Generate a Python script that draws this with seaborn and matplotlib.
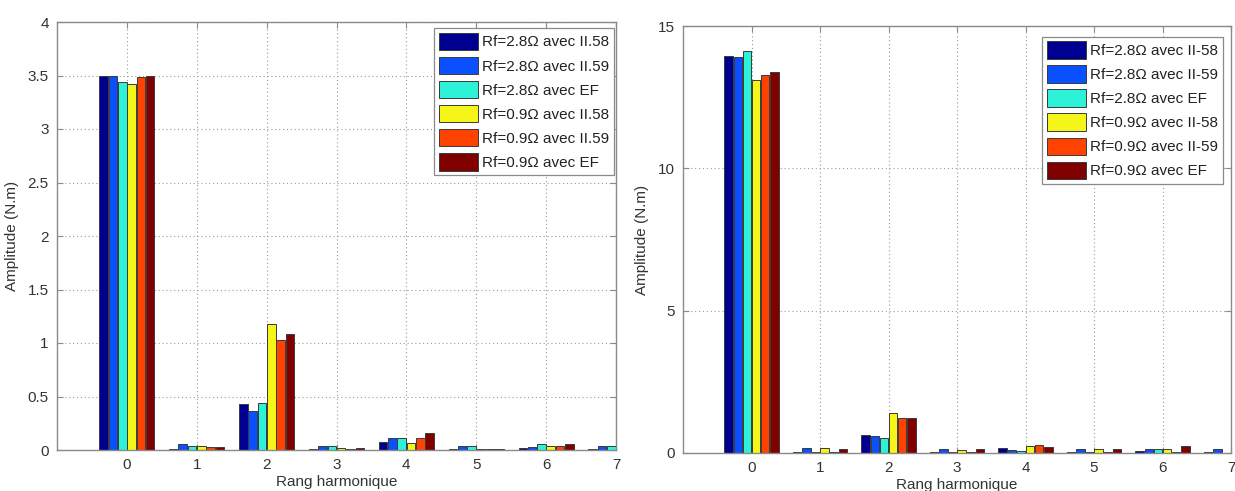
import matplotlib
matplotlib.use("Agg")
import matplotlib.pyplot as plt
import seaborn as sns
import pandas as pd
from matplotlib.ticker import FormatStrFormatter, MultipleLocator

# ---------------- data ----------------
harmonics = [0, 1, 2, 3, 4, 5, 6, 7]

series_left = ["Rf=2.8Ω avec II.58", "Rf=2.8Ω avec II.59", "Rf=2.8Ω avec EF",
               "Rf=0.9Ω avec II.58", "Rf=0.9Ω avec II.59", "Rf=0.9Ω avec EF"]
series_right = ["Rf=2.8Ω avec II-58", "Rf=2.8Ω avec II-59", "Rf=2.8Ω avec EF",
                "Rf=0.9Ω avec II-58", "Rf=0.9Ω avec II-59", "Rf=0.9Ω avec EF"]

left_28_ii58 = [3.50, 0.012, 0.43, 0.005, 0.075, 0.005, 0.015, 0.005]
left_28_ii59 = [3.50, 0.053, 0.36, 0.040, 0.115, 0.040, 0.030, 0.040]
left_28_ef   = [3.44, 0.035, 0.44, 0.040, 0.112, 0.040, 0.056, 0.040]
left_09_ii58 = [3.42, 0.035, 1.178, 0.018, 0.065, 0.005, 0.035, 0.020]
left_09_ii59 = [3.49, 0.025, 1.028, 0.012, 0.109, 0.005, 0.035, 0.020]
left_09_ef   = [3.50, 0.025, 1.081, 0.015, 0.162, 0.012, 0.059, 0.020]

right_28_ii58 = [13.94, 0.03, 0.64, 0.03, 0.19, 0.03, 0.06, 0.03]
right_28_ii59 = [13.91, 0.19, 0.59, 0.15, 0.09, 0.15, 0.15, 0.15]
right_28_ef   = [14.13, 0.03, 0.53, 0.03, 0.08, 0.03, 0.15, 0.01]
right_09_ii58 = [13.12, 0.17, 1.42, 0.12, 0.25, 0.15, 0.15, 0.15]
right_09_ii59 = [13.29, 0.05, 1.24, 0.03, 0.29, 0.03, 0.03, 0.03]
right_09_ef   = [13.37, 0.15, 1.24, 0.15, 0.22, 0.15, 0.24, 0.15]

colors = ["#000090", "#0A50FF", "#2EF2D8", "#F5F51A", "#FF4200", "#800000"]

x_label = "Rang harmonique"
y_label = "Amplitude (N.m)"


def build(series, values):
    rows = []
    for name, vals in zip(series, values):
        for h, v in zip(harmonics, vals):
            rows.append({"h": h, "serie": name, "amp": v})
    return pd.DataFrame(rows)


df_left = build(series_left, [left_28_ii58, left_28_ii59, left_28_ef,
                              left_09_ii58, left_09_ii59, left_09_ef])
df_right = build(series_right, [right_28_ii58, right_28_ii59, right_28_ef,
                                right_09_ii58, right_09_ii59, right_09_ef])

# ---------------- style ----------------
sns.set_theme(style="white")
plt.rcParams["font.family"] = ["Liberation Sans", "DejaVu Sans"]
text_col = "#333333"
spine_col = "#8a8a8a"

fig = plt.figure(figsize=(12.35, 4.91), dpi=100)
ax1 = fig.add_axes([57 / 1235, 41 / 491, (616 - 57) / 1235, (450 - 22) / 491])
ax2 = fig.add_axes([683 / 1235, 38 / 491, (1231 - 683) / 1235, (453 - 26) / 491])


def draw(ax, df, series, ymax, ystep, legend_anchor):
    sns.barplot(data=df, x="h", y="amp", hue="serie", hue_order=series,
                order=harmonics, palette=colors, errorbar=None, width=0.8,
                gap=0.08, edgecolor="#3a3a3a", linewidth=0.7, ax=ax, legend=True,
                saturation=1)
    ax.set_xlim(-1, 7)
    ax.set_ylim(0, ymax)
    ax.yaxis.set_major_locator(MultipleLocator(ystep))
    ax.yaxis.set_major_formatter(FormatStrFormatter("%g"))
    ax.set_xticks(harmonics)
    ax.set_xticklabels([str(h) for h in harmonics])
    ax.grid(True, which="major", linestyle=(0, (1, 2.5)), color="#9a9a9a",
            linewidth=0.8)
    ax.set_axisbelow(True)
    for s in ax.spines.values():
        s.set_visible(True)
        s.set_color(spine_col)
        s.set_linewidth(1.0)
    ax.tick_params(direction="in", length=4, width=0.8, color=spine_col,
                   top=True, right=True, bottom=True, left=True,
                   labelsize=11, labelcolor=text_col, pad=6)
    ax.set_xlabel(x_label, fontsize=11, color=text_col, labelpad=2)
    ax.set_ylabel(y_label, fontsize=11, color=text_col, labelpad=6)
    handles, labels = ax.get_legend_handles_labels()
    leg = ax.legend(handles, labels, loc="upper right",
                    bbox_to_anchor=legend_anchor, fontsize=11,
                    handlelength=2.6, handleheight=1.4, handletextpad=0.25,
                    labelspacing=0.42, borderpad=0.3, borderaxespad=0.0,
                    frameon=True, fancybox=False, framealpha=1)
    leg.get_frame().set_edgecolor(spine_col)
    leg.get_frame().set_linewidth(0.9)
    for t in leg.get_texts():
        t.set_color("#222222")


draw(ax1, df_left, series_left, 4, 0.5, (0.996, 0.986))
draw(ax2, df_right, series_right, 15, 5, (0.985, 0.975))

fig.savefig("out.png", dpi=100)
